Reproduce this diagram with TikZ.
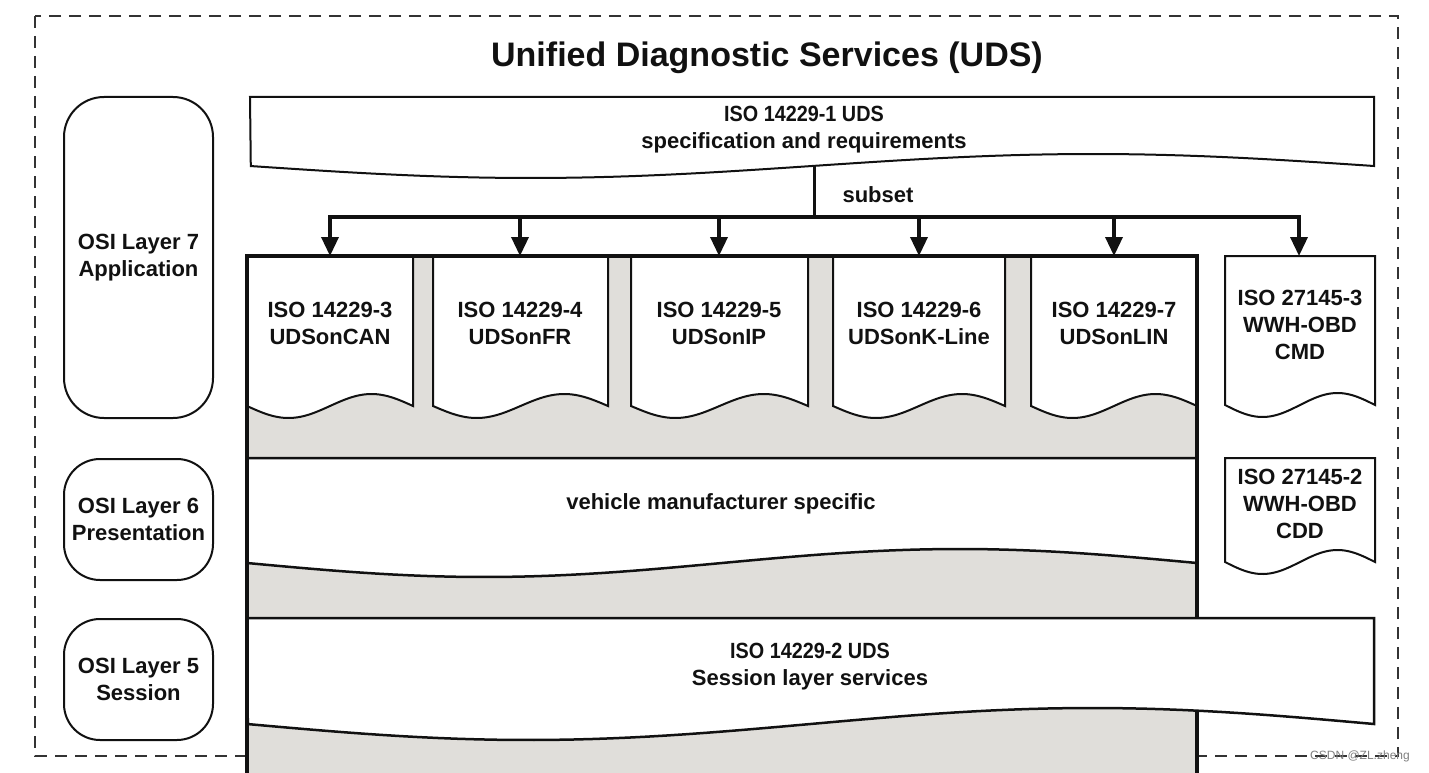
\documentclass[tikz,border=0pt]{standalone}
\usepackage{fontspec}
\usepackage{graphicx}
\setmainfont{Liberation Sans}
\usetikzlibrary{arrows.meta}
\definecolor{boxgrey}{HTML}{E0DEDA}
\definecolor{ink}{HTML}{111111}
\definecolor{dashc}{HTML}{333333}

% #1 x0, #2 x1, #3 ytop, #4 wave base, #5 amplitude, #6 options
\newcommand\docshape[6]{%
  \draw[#6] (#1,#3) -- (#2,#3) -- plot[domain=1:0,samples=60,variable=\t]
    ({#1+\t*(#2-#1)},{#4+#5*sin(360*\t)}) -- cycle;}

\begin{document}
\begin{tikzpicture}[x=1pt,y=-1pt,
  txt/.style={font=\bfseries\fontsize{22}{27}\selectfont, text=ink, align=center, inner sep=0pt},
  layerbox/.style={draw=ink, line width=2pt, fill=white, minimum width=149pt, txt},
  docst/.style={draw=ink, line width=2pt, fill=white},
  bus/.style={draw=ink, line width=3.5pt},
  arr/.style={bus, -{Triangle[length=19pt,width=17pt]}},
]
\useasboundingbox (0,0) rectangle (1429,773);
\clip (0,0) rectangle (1429,773);
\fill[white] (0,0) rectangle (1429,773);

% outer dashed frame
\draw[dashc, line width=1.6pt, dash pattern=on 12pt off 8pt] (35,16) rectangle (1398,756);

% title
\node[font=\bfseries\fontsize{34}{40}\selectfont, text=ink, inner sep=0pt] (title) at (767,58) {Unified Diagnostic Services (UDS)};

% OSI layer boxes
\node[layerbox, minimum height=321pt, rounded corners=40pt] (l7) at (138.5,257.5) {OSI Layer 7\\Application};
\node[layerbox, minimum height=121pt, rounded corners=36pt] (l6) at (138.5,519.5) {OSI Layer 6\\Presentation};
\node[layerbox, minimum height=121pt, rounded corners=36pt] (l5) at (138.5,679.5) {OSI Layer 5\\Session};

% ISO 14229-1 box
\docshape{250}{1374}{97}{166}{12}{docst}
\node[txt] (spec) at (804,130) {\scalebox{0.9}[1]{ISO 14229-1 UDS}\\specification and requirements};

% big grey box
\fill[boxgrey] (247,256) rectangle (1197,790);

% transport documents
\docshape{247}{413}{256}{406}{12}{docst}
\docshape{433}{608}{256}{406}{12}{docst}
\docshape{631}{808}{256}{406}{12}{docst}
\docshape{833}{1005}{256}{406}{12}{docst}
\docshape{1031}{1197}{256}{406}{12}{docst}
\node[txt] (d3) at (330,323) {ISO 14229-3\\UDSonCAN};
\node[txt] (d4) at (520,323) {ISO 14229-4\\UDSonFR};
\node[txt] (d5) at (719,323) {ISO 14229-5\\UDSonIP};
\node[txt] (d6) at (919,323) {ISO 14229-6\\UDSonK-Line};
\node[txt] (d7) at (1114,323) {ISO 14229-7\\UDSonLIN};

% layer 6 band
\docshape{247}{1197}{458}{563}{14}{draw=ink, line width=2.5pt, fill=white}
\node[txt] (vms) at (721,504) {vehicle manufacturer specific};

% big box border
\draw[ink, line width=3.5pt] (247,790) -- (247,256) -- (1197,256) -- (1197,790);

% layer 5 band
\docshape{247}{1374}{618}{724}{16}{draw=ink, line width=2.5pt, fill=white}
\draw[ink, line width=3.5pt] (247,600) -- (247,790);
\node[txt] (sess) at (810,667) {\scalebox{0.9}[1]{ISO 14229-2 UDS}\\Session layer services};

% WWH-OBD documents
\docshape{1225}{1375}{256}{405}{12}{docst}
\node[txt] (w3) at (1300,325) {ISO 27145-3\\WWH-OBD\\CMD};
\docshape{1225}{1375}{458}{562}{12}{docst}
\node[txt] (w2) at (1300,504) {ISO 27145-2\\WWH-OBD\\CDD};

% subset distribution
\coordinate (specbot) at (814,166);
\coordinate (busM) at (814,217);
\coordinate (t3) at (330,256);
\coordinate (t4) at (520,256);
\coordinate (t5) at (719,256);
\coordinate (t6) at (919,256);
\coordinate (t7) at (1114,256);
\coordinate (tw3) at (1299,256);
\draw[ink, line width=3pt] (specbot) -- (busM);
\draw[arr] (busM) -| (t3);
\draw[arr] (busM) -| (tw3);
\draw[arr] (t4 |- busM) -- (t4);
\draw[arr] (t5 |- busM) -- (t5);
\draw[arr] (t6 |- busM) -- (t6);
\draw[arr] (t7 |- busM) -- (t7);
\node[txt] (subset) at (878,195) {subset};

% watermark
\node[font=\fontsize{12}{12}\selectfont, text=gray, inner sep=0pt] (wm) at (1360,756) {CSDN @ZL.zheng};
\end{tikzpicture}
\end{document}
